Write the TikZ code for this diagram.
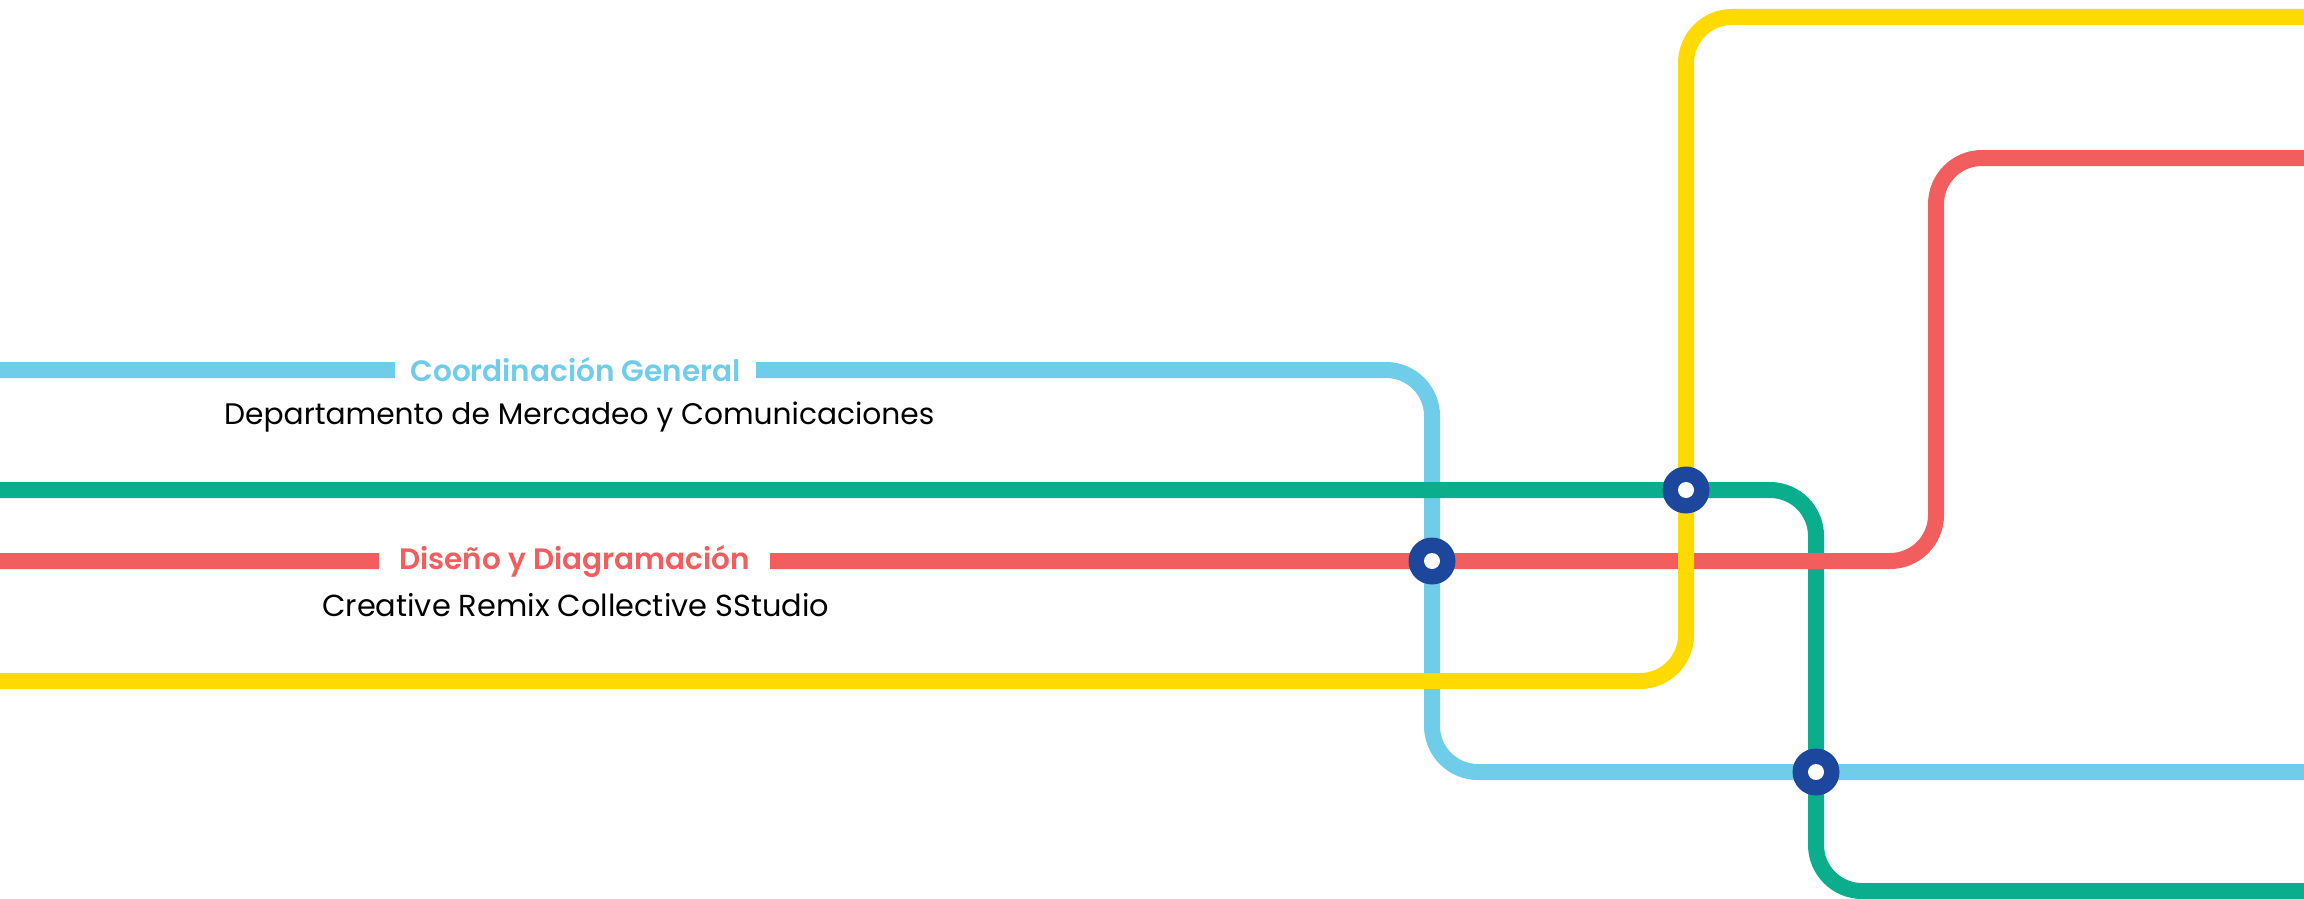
\documentclass[tikz,border=0pt]{standalone}
\usepackage{fontspec}
\setmainfont{Poppins}[BoldFont={Poppins SemiBold}]
\definecolor{lblue}{HTML}{6FCDEA}
\definecolor{lgreen}{HTML}{0AAD8C}
\definecolor{lred}{HTML}{F25E5E}
\definecolor{lyellow}{HTML}{FFDA00}
\definecolor{navy}{HTML}{1D469D}
\tikzset{
  metro/.style={line width=16pt, rounded corners=46pt},
  gaplabel/.style={fill=white, inner sep=0pt, minimum height=34pt, font=\fontsize{29.5}{29.5}\selectfont\bfseries},
  bodytext/.style={anchor=base west, inner sep=0pt, font=\fontsize{29.7}{29.7}\selectfont, text=black},
  station/.style={circle, fill=navy, minimum size=47pt, inner sep=0pt},
  stationhole/.style={circle, fill=white, minimum size=16pt, inner sep=0pt}
}
\begin{document}
\begin{tikzpicture}[x=1pt,y=-1pt]
\useasboundingbox (0,0) rectangle (2304,899);
% coordinates
\coordinate (bA) at (0,370);
\coordinate (bB) at (1432,370);
\coordinate (bC) at (1432,772);
\coordinate (bD) at (2304,772);
\coordinate (gA) at (0,490);
\coordinate (gB) at (1816,490);
\coordinate (gC) at (1816,891);
\coordinate (gD) at (2304,891);
\coordinate (rA) at (0,561);
\coordinate (rB) at (1936,561);
\coordinate (rC) at (1936,158);
\coordinate (rD) at (2304,158);
\coordinate (yA) at (0,681);
\coordinate (yB) at (1686,681);
\coordinate (yC) at (1686,17);
\coordinate (yD) at (2304,17);
% lines (order: blue, green, red, yellow)
\draw[metro, lblue] (bA) -- (bB) -- (bC) -- (bD);
\node[gaplabel, minimum width=361pt, text=lblue] (coord) at (575.5,370) {Coordinación General};
\draw[metro, lgreen] (gA) -- (gB) -- (gC) -- (gD);
\draw[metro, lred] (rA) -- (rB) -- (rC) -- (rD);
\node[gaplabel, minimum width=391pt, text=lred] (dis) at (574.5,561) {Diseño y Diagramación};
\draw[metro, lyellow] (yA) -- (yB) -- (yC) -- (yD);
% texts
\node[bodytext] (dep) at (224,424) {Departamento de Mercadeo y Comunicaciones};
\node[bodytext, font=\fontsize{30.4}{30.4}\selectfont] (cre) at (322,616) {Creative Remix Collective SStudio};
% stations
\node[station] (s1) at (1432,561) {};
\node[stationhole] at (s1) {};
\node[station] (s2) at (1686,490) {};
\node[stationhole] at (s2) {};
\node[station] (s3) at (1816,772) {};
\node[stationhole] at (s3) {};
\end{tikzpicture}
\end{document}
